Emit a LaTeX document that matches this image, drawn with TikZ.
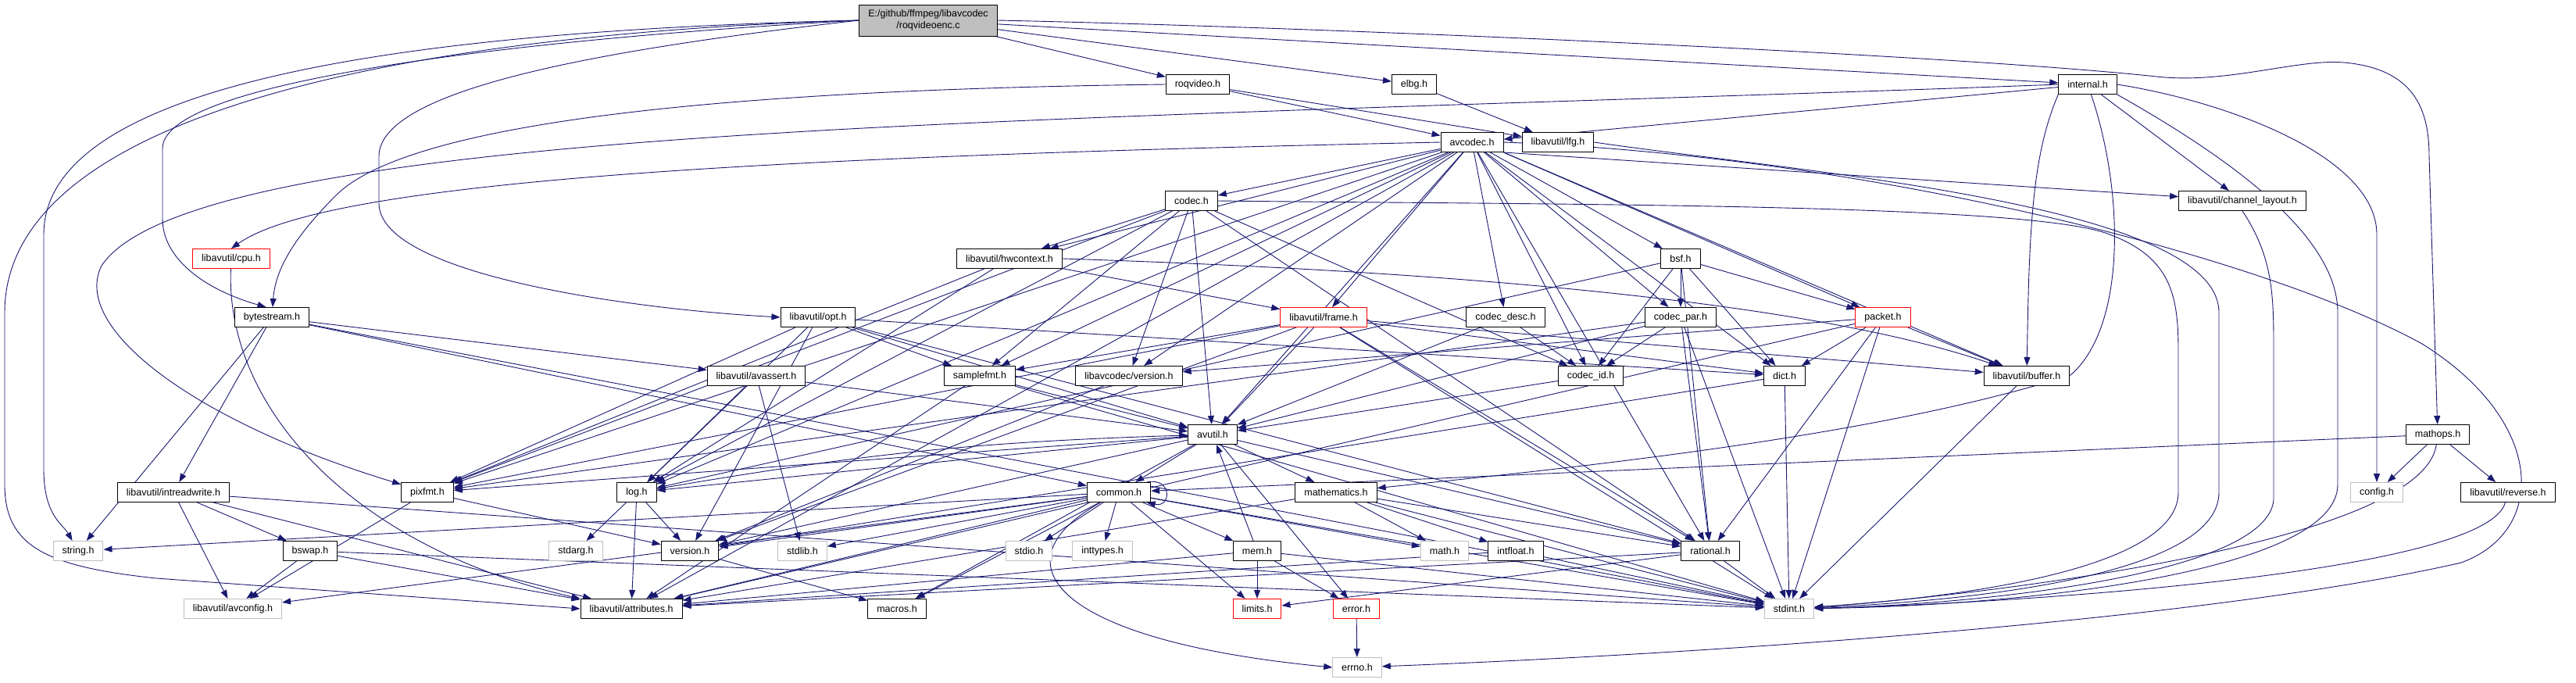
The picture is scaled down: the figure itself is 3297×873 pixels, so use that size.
\documentclass[tikz,border=0pt]{standalone}
\usepackage{fontspec}
\setmainfont{Liberation Sans}
\usetikzlibrary{arrows.meta,backgrounds}
\definecolor{edgeblue}{HTML}{191970}

\begin{document}
\begin{tikzpicture}[x=1pt,y=-1pt,line cap=round,line join=round]
  \tikzset{
    hdr/.style={draw=black,line width=1pt,fill=white,minimum height=25pt,
      inner xsep=11.5pt,inner ysep=0pt,font=\fontsize{12.5}{15}\selectfont},
    sys/.style={hdr,draw=black!25},
    trunc/.style={hdr,draw=red},
    dep/.style={draw=edgeblue,line width=0.9pt,-{Triangle[length=11pt,width=8pt]}}
  }
  \useasboundingbox (0,0) rectangle (3297,873);
  % headers, one row per rank of the include graph
  \node[hdr,fill=black!25,minimum height=40pt,align=center] (root) at (1188,26)
    {E:/github/ffmpeg/libavcodec\\/roqvideoenc.c};
  \node[hdr] (roqvideo) at (1533,108) {roqvideo.h};
  \node[hdr] (elbg) at (1810,108) {elbg.h};
  \node[hdr] (internal) at (2672,108) {internal.h};
  \node[hdr] (avcodec) at (1884,182) {avcodec.h};
  \node[hdr] (lfg) at (1994,182) {libavutil/lfg.h};
  \node[hdr] (codec) at (1525,257) {codec.h};
  \node[hdr] (chlayout) at (2870,257) {libavutil/channel\_layout.h};
  \node[trunc] (cpu) at (296,331) {libavutil/cpu.h};
  \node[hdr] (hwctx) at (1292,331) {libavutil/hwcontext.h};
  \node[hdr] (bsf) at (2151,331) {bsf.h};
  \node[hdr] (bytestream) at (348,406) {bytestream.h};
  \node[hdr] (opt) at (1047,406) {libavutil/opt.h};
  \node[trunc] (frame) at (1694,406) {libavutil/frame.h};
  \node[hdr] (codecdesc) at (1927,406) {codec\_desc.h};
  \node[hdr] (codecpar) at (2151,406) {codec\_par.h};
  \node[trunc] (packet) at (2410,406) {packet.h};
  \node[hdr] (avassert) at (968,481) {libavutil/avassert.h};
  \node[hdr] (samplefmt) at (1254,481) {samplefmt.h};
  \node[hdr] (lavcversion) at (1445,481) {libavcodec/version.h};
  \node[hdr] (codecid) at (2036,481) {codec\_id.h};
  \node[hdr] (dict) at (2284,481) {dict.h};
  \node[hdr] (buffer) at (2594,481) {libavutil/buffer.h};
  \node[hdr] (avutil) at (1552,556) {avutil.h};
  \node[hdr] (mathops) at (3120,556) {mathops.h};
  \node[hdr] (intreadwrite) at (222,630) {libavutil/intreadwrite.h};
  \node[hdr] (pixfmt) at (547,630) {pixfmt.h};
  \node[hdr] (log) at (815,630) {log.h};
  \node[hdr] (common) at (1432,630) {common.h};
  \node[hdr] (mathematics) at (1710,630) {mathematics.h};
  \node[sys] (config) at (3042,630) {config.h};
  \node[hdr] (reverse) at (3210,630) {libavutil/reverse.h};
  \node[sys] (string) at (100,705) {string.h};
  \node[hdr] (bswap) at (397,705) {bswap.h};
  \node[sys] (stdarg) at (737,705) {stdarg.h};
  \node[hdr] (version) at (883,705) {version.h};
  \node[sys] (stdlib) at (1027,705) {stdlib.h};
  \node[sys] (stdio) at (1317,705) {stdio.h};
  \node[sys] (inttypes) at (1411,705) {inttypes.h};
  \node[hdr] (mem) at (1609,705) {mem.h};
  \node[sys] (math) at (1849,705) {math.h};
  \node[hdr] (intfloat) at (1940,705) {intfloat.h};
  \node[hdr] (rational) at (2189,705) {rational.h};
  \node[sys] (avconfig) at (298,779) {libavutil/avconfig.h};
  \node[hdr] (attributes) at (808,779) {libavutil/attributes.h};
  \node[hdr] (macros) at (1148,779) {macros.h};
  \node[trunc] (limits) at (1609,779) {limits.h};
  \node[trunc] (error) at (1736,779) {error.h};
  \node[sys] (stdint) at (2290,779) {stdint.h};
  \node[sys] (errno) at (1737,854) {errno.h};

  \begin{scope}[on background layer]
  % roqvideoenc.c
  \foreach \t in {roqvideo,elbg,internal} \draw[dep] (root) -- (\t);
  \draw[dep] (root.west) .. controls (600,38) and (56,90) .. (56,300) -- (56,600)
    .. controls (56,660) and (80,670) .. (string);
  \draw[dep] (root.west) .. controls (500,44) and (6,150) .. (6,400) -- (6,620)
    .. controls (6,700) and (60,725) .. (200,740) -- (attributes.west);
  \draw[dep] (root.west) .. controls (700,48) and (208,100) .. (208,190) -- (208,280)
    .. controls (208,330) and (260,370) .. (bytestream.120);
  \draw[dep] (root.west) .. controls (800,60) and (485,110) .. (485,200) -- (485,260)
    .. controls (485,350) and (800,395) .. (opt.west);
  \draw[dep] (root.east) .. controls (1700,35) and (2500,70) .. (2760,98)
    .. controls (2850,108) and (2940,75) .. (3000,80)
    .. controls (3090,88) and (3109,140) .. (3109,200) -- (mathops);
  % roqvideo.h, elbg.h, internal.h
  \foreach \t in {avcodec,lfg} \draw[dep] (roqvideo) -- (\t);
  \draw[dep] (roqvideo.west) .. controls (900,115) and (520,160) .. (430,250)
    .. controls (370,310) and (352,350) .. (bytestream);
  \draw[dep] (elbg) -- (lfg);
  \foreach \t in {avcodec,chlayout} \draw[dep] (internal) -- (\t);
  \draw[dep] (internal.south west) .. controls (2600,200) and (2597,300) .. (buffer);
  \draw[dep] (internal.east) .. controls (2850,130) and (3042,200) .. (3042,300) -- (config);
  \draw[dep] (internal.south east) .. controls (2850,200) and (2992,300) .. (2992,400)
    -- (2992,620) .. controls (2992,730) and (2600,775) .. (stdint);
  \draw[dep] (internal) .. controls (2720,250) and (2720,420) .. (2650,480)
    .. controls (2400,560) and (2000,600) .. (mathematics);
  \draw[dep] (internal.west) .. controls (2200,125) and (1400,145) .. (1000,170)
    .. controls (500,200) and (190,250) .. (130,340)
    .. controls (90,420) and (250,540) .. (pixfmt);
  % avcodec.h
  \foreach \t in {samplefmt,attributes,avutil,dict,frame,hwctx,log,pixfmt,rational,
    bsf,codec,codecdesc,codecpar,codecid,lavcversion}
    \draw[dep] (avcodec) -- (\t);
  \foreach \t in {buffer,chlayout,packet} \draw[dep] (avcodec.south east) -- (\t);
  \draw[dep] (avcodec.west) .. controls (1000,200) and (420,230) .. (cpu.north);
  \draw[dep] (avcodec.east) .. controls (2400,200) and (2900,330) .. (3100,440)
    .. controls (3260,540) and (3260,680) .. (3150,720)
    .. controls (2800,800) and (2100,840) .. (errno);
  % codec.h, cpu.h, hwcontext.h, bsf.h
  \foreach \t in {avutil,hwctx,log,pixfmt,rational,samplefmt,codecid,lavcversion}
    \draw[dep] (codec) -- (\t);
  \draw[dep] (codec.east) .. controls (2000,262) and (2600,260) .. (2700,300)
    .. controls (2780,330) and (2788,380) .. (2788,450) -- (2788,630)
    .. controls (2788,730) and (2500,765) .. (stdint);
  \draw[dep] (cpu) .. controls (288,520) and (450,700) .. (attributes.north west);
  \foreach \t in {frame,log,pixfmt} \draw[dep] (hwctx) -- (\t);
  \draw[dep] (hwctx.east) .. controls (1800,345) and (2300,380) .. (buffer);
  \foreach \t in {dict,log,rational,codecid,codecpar,packet} \draw[dep] (bsf) -- (\t);
  % rank of bytestream.h
  \foreach \t in {string,stdint,avassert,common,intreadwrite} \draw[dep] (bytestream) -- (\t);
  \foreach \t in {rational,avutil,dict,log,pixfmt,samplefmt,version} \draw[dep] (opt) -- (\t);
  \foreach \t in {stdint,avutil,buffer,dict,rational,samplefmt,pixfmt,version}
    \draw[dep] (frame) -- (\t);
  \foreach \t in {avutil,codecid} \draw[dep] (codecdesc) -- (\t);
  \foreach \t in {stdint,avutil,rational,pixfmt,codecid} \draw[dep] (codecpar) -- (\t);
  \foreach \t in {stdint,attributes,buffer,dict,rational,lavcversion} \draw[dep] (packet) -- (\t);
  % rank of avassert.h
  \foreach \t in {stdlib,avutil,log} \draw[dep] (avassert) -- (\t);
  \foreach \t in {stdint,avutil,attributes} \draw[dep] (samplefmt) -- (\t);
  \draw[dep] (lavcversion) -- (version);
  \draw[dep] (codecid) -- (avutil);
  \foreach \t in {stdint,version} \draw[dep] (dict) -- (\t);
  \draw[dep] (buffer) -- (stdint);
  \draw[dep] (lfg.east) .. controls (2300,220) and (2840,260) .. (2840,400) -- (2840,630)
    .. controls (2840,740) and (2500,770) .. (stdint);
  \draw[dep] (chlayout.south) .. controls (2910,330) and (2910,380) .. (2910,450) -- (2910,640)
    .. controls (2900,740) and (2500,775) .. (stdint);
  % avutil.h, mathops.h
  \foreach \t in {common,error,rational,version,macros,mathematics,log,pixfmt}
    \draw[dep] (avutil) -- (\t);
  \foreach \t in {common,config,reverse} \draw[dep] (mathops) -- (\t);
  \draw[dep] (mathops) .. controls (3100,700) and (2500,765) .. (stdint);
  \draw[dep] (reverse) .. controls (3180,740) and (2500,775) .. (stdint);
  % rank of common.h
  \foreach \t in {stdint,avconfig,attributes,bswap} \draw[dep] (intreadwrite) -- (\t);
  \foreach \t in {avconfig,version} \draw[dep] (pixfmt) -- (\t);
  \foreach \t in {stdarg,attributes,version} \draw[dep] (log) -- (\t);
  \draw[dep] (log) to[bend left=4] (avutil);
  \foreach \t in {inttypes,limits,math,stdint,stdio,stdlib,string,attributes,macros,
    version,avconfig,mem}
    \draw[dep] (common) -- (\t);
  \draw[dep] (common.20) .. controls (1500,610) and (1500,650) .. (common.-20);
  \draw[dep] (common) .. controls (1270,720) and (1350,820) .. (errno.west);
  \foreach \t in {stdint,math,attributes,rational,intfloat} \draw[dep] (mathematics) -- (\t);
  % lowest ranks
  \foreach \t in {stdint,avconfig,attributes} \draw[dep] (bswap) -- (\t);
  \draw[dep] (version) -- (macros);
  \foreach \t in {limits,stdint,attributes,error,avutil} \draw[dep] (mem) -- (\t);
  \foreach \t in {stdint,attributes} \draw[dep] (intfloat) -- (\t);
  \foreach \t in {stdint,limits,attributes} \draw[dep] (rational) -- (\t);
  \draw[dep] (error) -- (errno);
  \end{scope}
\end{tikzpicture}
\end{document}
